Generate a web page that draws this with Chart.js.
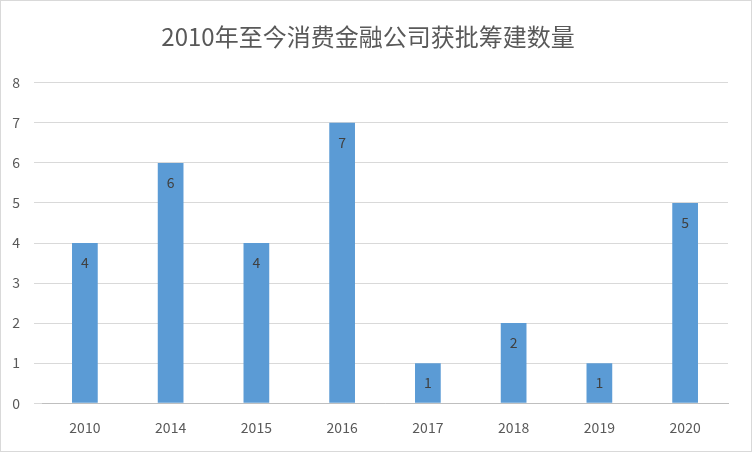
<!DOCTYPE html>
<html><head><meta charset="utf-8">
<script src="https://cdn.jsdelivr.net/npm/chart.js@4"></script>
<style>html,body{margin:0;padding:0;background:#fff}canvas{display:block}</style>
</head><body>
<canvas id="c" width="752" height="452"></canvas>
<script>
const categories = ["2010","2014","2015","2016","2017","2018","2019","2020"];
const values = [4,6,4,7,1,2,1,5];
const yTicks = [0,1,2,3,4,5,6,7,8];
const font = "'Noto Sans CJK SC','Liberation Sans',sans-serif";
const labelPlugin = {
  id:'lbl',
  afterDatasetsDraw(chart){
    const ctx = chart.ctx, meta = chart.getDatasetMeta(0);
    ctx.save();
    ctx.fillStyle='#404040';ctx.font="14px "+font;ctx.textAlign='center';ctx.textBaseline='middle';
    meta.data.forEach((b,i)=>{ctx.fillText(String(values[i]), b.x, b.y+20);});
    ctx.restore();
  }
};
const borderPlugin = {
  id:'brd',
  afterDraw(chart){const ctx=chart.ctx;ctx.save();ctx.strokeStyle='#d9d9d9';ctx.lineWidth=1;ctx.strokeRect(0.5,0.5,751,451);ctx.restore();}
};
new Chart(document.getElementById('c'),{
  type:'bar',
  data:{labels:categories,datasets:[{data:values,backgroundColor:'#5b9bd5',barPercentage:0.6,categoryPercentage:0.5}]},
  options:{
    responsive:false,animation:false,
    layout:{padding:{left:8,right:24,top:18,bottom:8}},
    plugins:{legend:{display:false},tooltip:{enabled:false},
      title:{display:true,text:'2010年至今消费金融公司获批筹建数量',color:'#595959',font:{family:font,size:24,weight:'normal'},padding:{top:4,bottom:32}}},
    scales:{
      x:{grid:{display:false},border:{color:'#bfbfbf'},ticks:{color:'#595959',font:{family:font,size:14},padding:8}},
      y:{min:0,max:8,afterBuildTicks(a){a.ticks=yTicks.map(v=>({value:v}));},
        afterFit(a){a.width=34;},
        grid:{color:'#d9d9d9'},border:{display:false},
        ticks:{color:'#595959',font:{family:font,size:14},padding:14}}
    }
  },
  plugins:[labelPlugin,borderPlugin]
});
</script>
</body></html>
